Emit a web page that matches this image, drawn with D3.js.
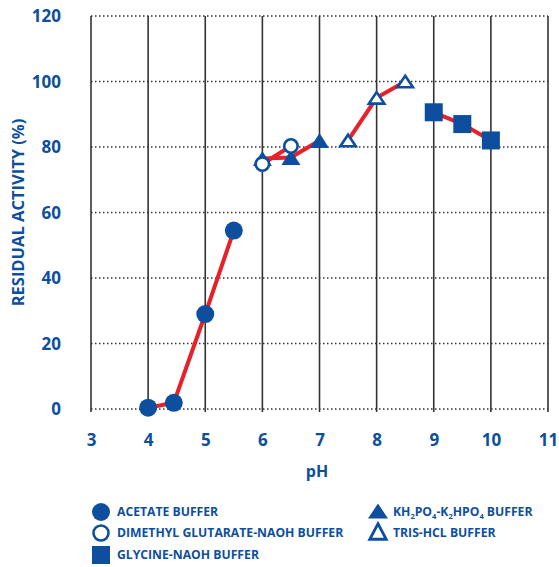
<!doctype html>
<html>
<head>
<style>
  body { margin: 0; background: #fff; font-family: 'Open Sans', sans-serif; }
  svg { display: block; }
  text { fill: #0d4f9e; font-weight: 700; }
  .tick text { font-size: 17px; font-family: 'Open Sans', sans-serif; }
  .vgrid line { stroke: #333; stroke-width: 1.6; }
  .hgrid line { stroke: #333; stroke-width: 1.4; stroke-dasharray: 1.5 2.5; }
  .series { fill: none; stroke: #e8202a; stroke-width: 4; }
  .legend text { font-size: 12.2px; }
</style>
<script src="https://d3js.org/d3.v7.min.js"></script>
</head>
<body>
<svg width="559" height="567"></svg>
<script>
const xTicks = [3, 4, 5, 6, 7, 8, 9, 10, 11];
const yTicks = [0, 20, 40, 60, 80, 100, 120];

const acetate = [[4, 0.4], [4.45, 1.9], [5, 29], [5.5, 54.5]];
const dimethyl = [[6, 74.8], [6.5, 80.3]];
const phosphate = [[6, 76.5], [6.5, 76.8], [7, 82]];
const tris = [[7.5, 82], [8, 95], [8.5, 100]];
const glycine = [[9, 90.6], [9.5, 87], [10, 82]];

const seriesNames = ['ACETATE BUFFER', 'DIMETHYL GLUTARATE-NAOH BUFFER', 'GLYCINE-NAOH BUFFER'];

const blue = '#0d4f9e';
const svg = d3.select('svg');

const x = d3.scaleLinear().domain([3, 11]).range([91, 548]);
const y = d3.scaleLinear().domain([0, 120]).range([409, 16]);

// triangle centred on its bounding box
const triPath = (w, h) => `M0,${-h / 2}L${w / 2},${h / 2}L${-w / 2},${h / 2}Z`;

// grid
svg.append('g').attr('class', 'vgrid')
  .selectAll('line').data(xTicks).enter().append('line')
  .attr('x1', d => x(d)).attr('x2', d => x(d))
  .attr('y1', y(120)).attr('y2', y(0) + 3);

svg.append('g').attr('class', 'hgrid')
  .selectAll('line').data(yTicks).enter().append('line')
  .attr('x1', x(3)).attr('x2', x(11))
  .attr('y1', d => y(d)).attr('y2', d => y(d));

// axes (labels only)
const xAxis = svg.append('g')
  .attr('transform', `translate(0, ${y(0)})`)
  .call(d3.axisBottom(x).tickValues(xTicks).tickSize(0).tickPadding(25).tickFormat(d3.format('d')));
xAxis.select('.domain').remove();

const yAxis = svg.append('g')
  .attr('transform', `translate(${x(3)}, 0)`)
  .call(d3.axisLeft(y).tickValues(yTicks).tickSize(0).tickPadding(30));
yAxis.select('.domain').remove();
yAxis.selectAll('.tick text').attr('dy', '0.35em');

svg.append('text')
  .attr('x', 317).attr('y', 477)
  .attr('text-anchor', 'middle').attr('font-size', 16)
  .text('pH');

svg.append('text')
  .attr('transform', `translate(24, ${(y(0) + y(120)) / 2}) rotate(-90)`)
  .attr('text-anchor', 'middle').attr('font-size', 16.5)
  .text('RESIDUAL ACTIVITY (%)');

// lines
const line = d3.line().x(d => x(d[0])).y(d => y(d[1]));
[acetate, dimethyl, phosphate, tris, glycine].forEach(s => {
  svg.append('path').attr('class', 'series').attr('d', line(s));
});

// markers
svg.append('g').selectAll('path').data(phosphate).enter().append('path')
  .attr('d', triPath(19, 15)).attr('fill', blue)
  .attr('transform', d => `translate(${x(d[0])}, ${y(d[1])})`);

svg.append('g').selectAll('path').data(tris).enter().append('path')
  .attr('d', triPath(15.5, 11.5)).attr('fill', '#fff')
  .attr('stroke', blue).attr('stroke-width', 2.6)
  .attr('transform', d => `translate(${x(d[0])}, ${y(d[1])})`);

svg.append('g').selectAll('circle').data(acetate).enter().append('circle')
  .attr('cx', d => x(d[0])).attr('cy', d => y(d[1])).attr('r', 9)
  .attr('fill', blue);

svg.append('g').selectAll('circle').data(dimethyl).enter().append('circle')
  .attr('cx', d => x(d[0])).attr('cy', d => y(d[1])).attr('r', 6.7)
  .attr('fill', '#fff').attr('stroke', blue).attr('stroke-width', 2.6);

svg.append('g').selectAll('rect').data(glycine).enter().append('rect')
  .attr('x', d => x(d[0]) - 9).attr('y', d => y(d[1]) - 9)
  .attr('width', 18).attr('height', 18).attr('fill', blue);

// legend
const legend = svg.append('g').attr('class', 'legend');
const rows = [512, 533, 555];
const lx = 101;

legend.append('circle').attr('cx', lx).attr('cy', rows[0]).attr('r', 9).attr('fill', blue);
legend.append('circle').attr('cx', lx).attr('cy', rows[1]).attr('r', 7.5)
  .attr('fill', '#fff').attr('stroke', blue).attr('stroke-width', 2.6);
legend.append('rect').attr('x', lx - 9).attr('y', rows[2] - 9).attr('width', 18).attr('height', 18).attr('fill', blue);

seriesNames.forEach((n, i) => {
  legend.append('text').attr('x', 117).attr('y', rows[i]).attr('dy', '0.35em').text(n);
});

legend.append('path').attr('d', triPath(20, 15))
  .attr('fill', blue).attr('transform', `translate(378, ${rows[0] - 1})`);
legend.append('path').attr('d', triPath(16.5, 15.5))
  .attr('fill', '#fff').attr('stroke', blue).attr('stroke-width', 2.8)
  .attr('transform', `translate(378, ${rows[1] - 1.5})`);

const kh = legend.append('text').attr('x', 393).attr('y', rows[0]).attr('dy', '0.35em');
kh.append('tspan').text('KH');
kh.append('tspan').attr('font-size', 7.5).attr('dy', 3).text('2');
kh.append('tspan').attr('dy', -3).text('PO');
kh.append('tspan').attr('font-size', 7.5).attr('dy', 3).text('4');
kh.append('tspan').attr('dy', -3).text('-K');
kh.append('tspan').attr('font-size', 7.5).attr('dy', 3).text('2');
kh.append('tspan').attr('dy', -3).text('HPO');
kh.append('tspan').attr('font-size', 7.5).attr('dy', 3).text('4');
kh.append('tspan').attr('dy', -3).text(' BUFFER');

legend.append('text').attr('x', 393).attr('y', rows[1]).attr('dy', '0.35em').text('TRIS-HCL BUFFER');
</script>
</body>
</html>
